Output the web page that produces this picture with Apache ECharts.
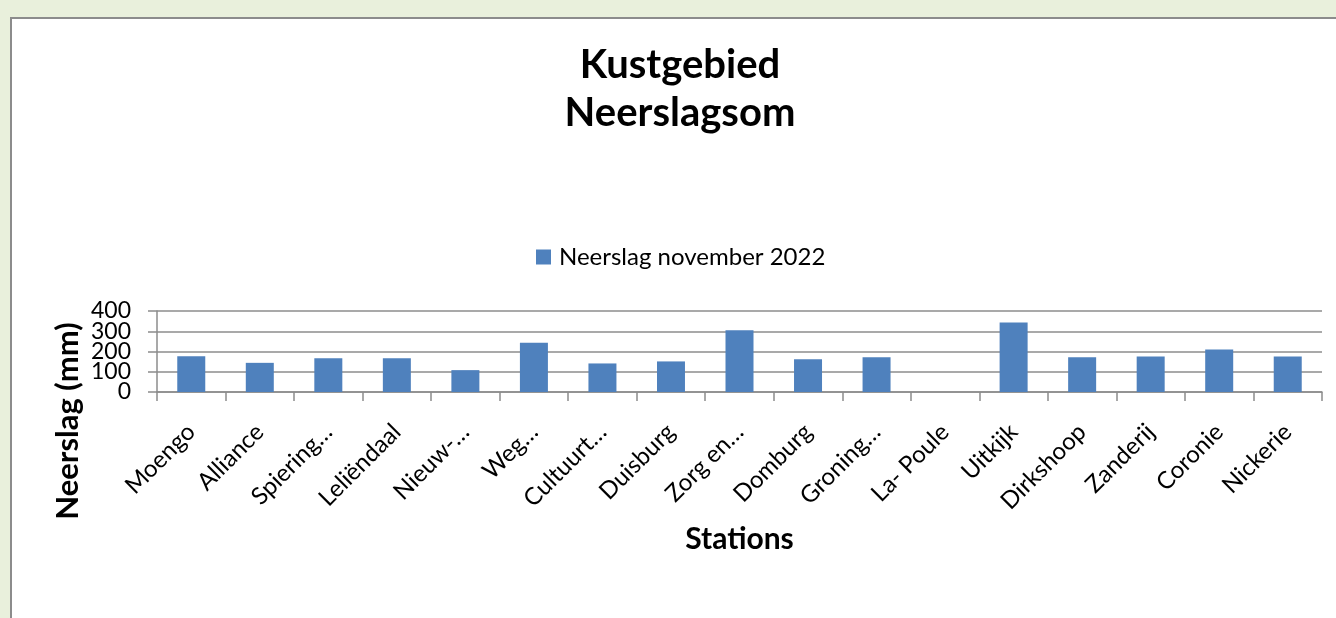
<!DOCTYPE html>
<html>
<head>
<meta charset="utf-8">
<script src="https://cdn.jsdelivr.net/npm/echarts@6/dist/echarts.min.js"></script>
<style>
html,body{margin:0;padding:0;background:#e9f0dc;}
#chart{width:1336px;height:618px;}
</style>
</head>
<body>
<div id="chart"></div>
<script>
const categories = ["Moengo","Alliance","Spiering…","Leliëndaal","Nieuw-…","Weg…","Cultuurt…","Duisburg","Zorg en…","Domburg","Groning…","La- Poule","Uitkijk","Dirkshoop","Zanderij","Coronie","Nickerie"];
const rainfall = [177,144,167,167,108,243,141,151,305,162,172,0,343,172,175,210,175];
const yTicks = [0,100,200,300,400];
const seriesName = "Neerslag november 2022";
const titleText = "Kustgebied\nNeerslagsom";
const yAxisName = "Neerslag (mm)";
const xAxisName = "Stations";

const FONT = "Lato";
const yMin = yTicks[0], yMax = yTicks[yTicks.length-1];
// labels split over two coincident axes so that none get auto-hidden
const yLabelsA = yTicks.filter((v,i)=>i%2===0);
const yLabelsB = yTicks.filter((v,i)=>i%2===1);
const yLabelStyle = {margin:26, color:'#000', fontFamily:FONT, fontSize:23, hideOverlap:false};

const chart = echarts.init(document.getElementById('chart'), null, {renderer:'canvas'});
chart.setOption({
  backgroundColor: '#e9f0dc',
  animation: false,
  graphic: [{
    type:'rect', z:-10, left:10, top:17,
    shape:{x:0,y:0,width:1340,height:610},
    style:{fill:'#ffffff', stroke:'#8c8c8c', lineWidth:2}
  },{
    type:'text', x:68, y:421, rotation:Math.PI/2,
    style:{text:yAxisName, fontFamily:FONT, fontWeight:'bold', fontSize:31, fill:'#000',
      textAlign:'center', textVerticalAlign:'middle'}
  }],
  title: {
    text: titleText,
    left: 680, textAlign:'center', top: 41, padding:0,
    textStyle:{fontFamily:FONT, fontWeight:'bold', fontSize:40, color:'#000', lineHeight:48}
  },
  legend: {
    data:[seriesName], top: 240, left: 531,
    itemWidth:15, itemHeight:15, icon:'rect', itemGap:8,
    textStyle:{fontFamily:FONT, fontSize:24, color:'#000', padding:[0,0,0,3]}
  },
  grid: {left:157, right:14, top:311, bottom:226, containLabel:false},
  xAxis: {
    type:'category', data:categories,
    name:xAxisName, nameLocation:'middle', nameGap:132,
    nameTextStyle:{fontFamily:FONT, fontWeight:'bold', fontSize:30, color:'#000'},
    axisLine:{lineStyle:{color:'#8c8c8c', width:1.5}},
    axisTick:{show:true, length:9, alignWithLabel:false, lineStyle:{color:'#8c8c8c', width:1.5}},
    axisLabel:{rotate:45, interval:0, margin:36, fontFamily:FONT, fontSize:24, color:'#000'}
  },
  yAxis: [{
    type:'value', min:yMin, max:yMax, interval:100, position:'left',
    axisLine:{show:true, lineStyle:{color:'#8c8c8c', width:1.5}},
    axisTick:{show:true, length:9, lineStyle:{color:'#8c8c8c', width:1.5}},
    splitLine:{lineStyle:{color:'#8c8c8c', width:1.5}},
    axisLabel:Object.assign({customValues:yLabelsA}, yLabelStyle)
  },{
    type:'value', min:yMin, max:yMax, interval:100, position:'left', offset:0,
    axisLine:{show:false}, axisTick:{show:false}, splitLine:{show:false},
    axisLabel:Object.assign({customValues:yLabelsB}, yLabelStyle)
  }],
  series: [{
    name: seriesName, type:'bar', data:rainfall, yAxisIndex:0,
    barWidth:28,
    itemStyle:{color:'#4f81bd'}
  }]
});
</script>
</body>
</html>
